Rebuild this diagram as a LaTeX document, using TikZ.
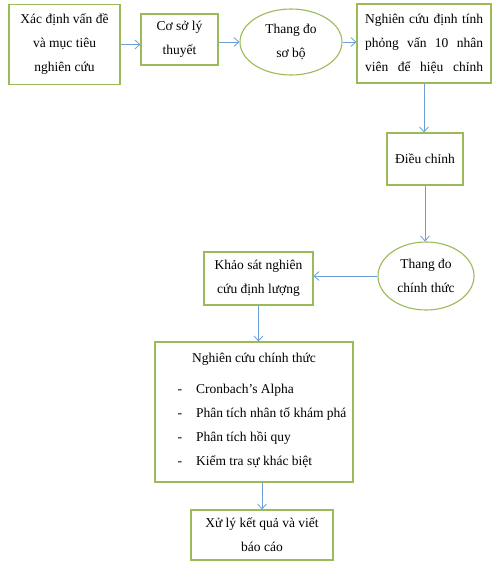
\documentclass[tikz,border=0pt]{standalone}
\usepackage{fontspec}
\setmainfont{Liberation Serif}
\usetikzlibrary{arrows.meta,shapes.geometric}
\definecolor{boxgreen}{HTML}{9BBB59}
\definecolor{arrowblue}{HTML}{6C9FD6}

\begin{document}
\begin{tikzpicture}[x=1pt,y=-1pt]

  \useasboundingbox (0,0) rectangle (492,573);

  \node[anchor=center,inner sep=0pt] (X) at (0,0) {};

  % node styles
  \tikzstyle{Box}=[
  anchor=center,
  draw=boxgreen,
  line width=1.1pt,
  font=\fontsize{13.5}{24}\selectfont,
  align=center,
  inner sep=1mm,
  shape=rectangle,fill=white]

  \tikzstyle{Oval}=[Box,shape=ellipse,inner sep=0pt]

  \tikzstyle{Flow}=[draw=arrowblue,line width=0.8pt,-{Straight Barb[length=5pt,width=9pt]}]

  \draw (X) node[Box,minimum width=111pt,minimum height=80pt] (A)  at +( 64.5, 44.5) {Xác định vấn đề\\và mục tiêu\\nghiên cứu};
  \draw (X) node[Box,minimum width= 77pt,minimum height=51pt] (B)  at +(179.5, 39.5) {Cơ sở lý\\thuyết};
  \draw (X) node[Oval,minimum width=102pt,minimum height=66pt] (C)  at +(291.0, 42.0) {Thang đo\\sơ bộ};
  \draw (X) node[Box,minimum width=134pt,minimum height=79pt] (D)  at +(424.0, 43.5)
    {\makebox[118pt][s]{Nghiên cứu định tính}\\\makebox[118pt][s]{phỏng vấn 10 nhân}\\\makebox[118pt][s]{viên để hiệu chỉnh}};
  \draw (X) node[Box,minimum width= 76pt,minimum height=52pt] (E)  at +(425.0,159.0) {Điều chỉnh};
  \draw (X) node[Oval,minimum width= 96pt,minimum height=68pt] (F)  at +(426.0,276.0) {Thang đo\\chính thức};
  \draw (X) node[Box,minimum width=109pt,minimum height=53pt] (G)  at +(258.5,278.5) {Khảo sát nghiên\\cứu định lượng};
  \draw (X) node[Box,minimum width=198pt,minimum height=140pt] (H)  at +(254.0,412.0)
    {\begin{tabular}{@{}c@{}}
       Nghiên cứu chính thức\\[7pt]
       \begin{tabular}{@{\hspace{16pt}}l@{\hspace{14pt}}l@{}}
         - & Cronbach's Alpha\\
         - & Phân tích nhân tố khám phá\\
         - & Phân tích hồi quy\\
         - & Kiểm tra sự khác biệt\\[5pt]
       \end{tabular}
     \end{tabular}};
  \draw (X) node[Box,minimum width=142pt,minimum height=50pt] (K)  at +(262.0,535.0) {Xử lý kết quả và viết\\báo cáo};

  \draw[Flow] (A.east) -- (A.east -| B.west);
  \draw[Flow] (B.east |- C.west) -- (C.west);
  \draw[Flow] (C.east) -- (C.east -| D.west);
  \draw[Flow] (D.south) -- (D.south |- E.north);
  \draw[Flow] (E.south) -- (E.south |- F.north);
  \draw[Flow] (F.west) -- (F.west -| G.east);
  \draw[Flow] (G.south) -- (G.south |- H.north);
  \draw[Flow] (K.north |- H.south) -- (K.north);

\end{tikzpicture}
\end{document}
